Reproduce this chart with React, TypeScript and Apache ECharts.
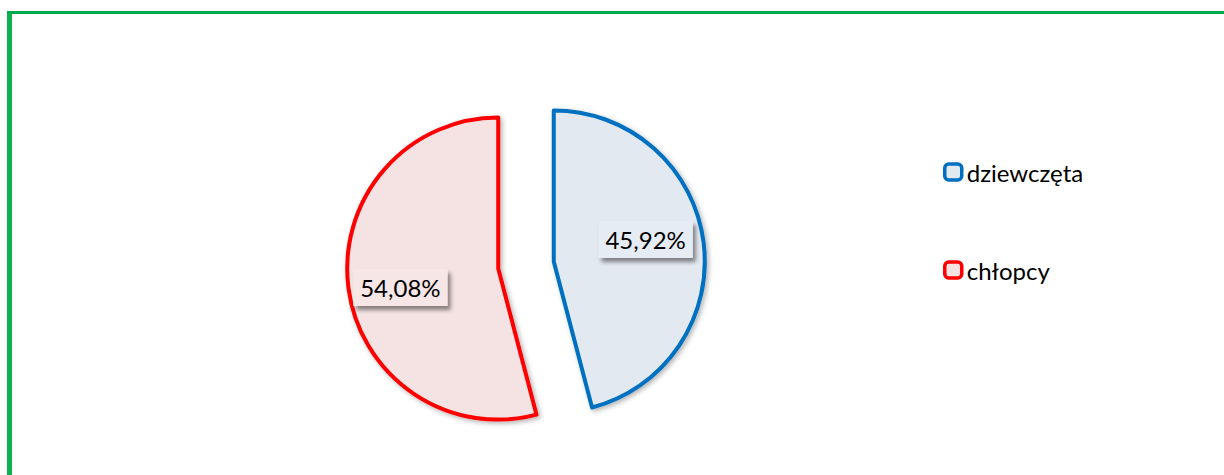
import React, { useEffect, useRef } from "react";
import * as echarts from "echarts";

const categories = ["dziewczęta", "chłopcy"];
const values = [45.92, 54.08];
const strokeColors = ["#0070C0", "#FF0000"];
const fillColors = ["#E3E9F1", "#F5E3E3"];
const labelBg = ["#E6ECF3", "#F7E6E6"];
const labelShift = [
  [14, -12],
  [-20, 9],
];

const fmt = (v: number) => v.toFixed(2).replace(".", ",") + "%";

export default function App() {
  const ref = useRef<HTMLDivElement>(null);
  useEffect(() => {
    if (!ref.current) return;
    const chart = echarts.init(ref.current, null, { renderer: "svg" });
    chart.setOption({
      animation: false,
      backgroundColor: "#ffffff",
      graphic: [
        {
          type: "line",
          shape: { x1: 9.5, y1: 11, x2: 9.5, y2: 480 },
          style: { stroke: "#0DB14F", lineWidth: 5 },
        },
        {
          type: "line",
          shape: { x1: 7, y1: 12.5, x2: 1230, y2: 12.5 },
          style: { stroke: "#00AB4E", lineWidth: 3 },
        },
      ],
      legend: {
        orient: "vertical",
        left: 938,
        top: 155,
        itemWidth: 17,
        itemHeight: 16,
        itemGap: 74,
        icon: "roundRect",
        itemStyle: { borderWidth: 3.5 },
        textStyle: { fontFamily: "Lato", fontSize: 24, color: "#000" },
        data: categories,
      },
      series: [
        {
          type: "pie",
          center: [526, 265],
          radius: 151,
          startAngle: 90,
          clockwise: true,
          selectedMode: "multiple",
          selectedOffset: 28,
          emphasis: { disabled: true },
          label: {
            show: true,
            position: "inside",
            fontFamily: "Lato",
            fontSize: 24,
            color: "#000",
            padding: [7, 7, 6, 7],
            shadowBlur: 4,
            shadowColor: "rgba(0,0,0,0.45)",
            shadowOffsetX: 3,
            shadowOffsetY: 4,
            formatter: (p: any) => fmt(p.value),
          },
          labelLayout: (p: any) => ({
            dx: labelShift[p.dataIndex][0],
            dy: labelShift[p.dataIndex][1],
          }),
          data: categories.map((name, i) => ({
            name,
            value: values[i],
            selected: true,
            itemStyle: {
              color: fillColors[i],
              borderColor: strokeColors[i],
              borderWidth: 4,
              shadowBlur: 5,
              shadowColor: "rgba(0,0,0,0.3)",
              shadowOffsetX: 2,
              shadowOffsetY: 2,
            },
            label: { backgroundColor: labelBg[i] },
          })),
        },
      ],
    });
    return () => chart.dispose();
  }, []);
  return (
    <div
      ref={ref}
      style={{ position: "absolute", left: 0, top: 0, width: 1224, height: 475 }}
    />
  );
}
